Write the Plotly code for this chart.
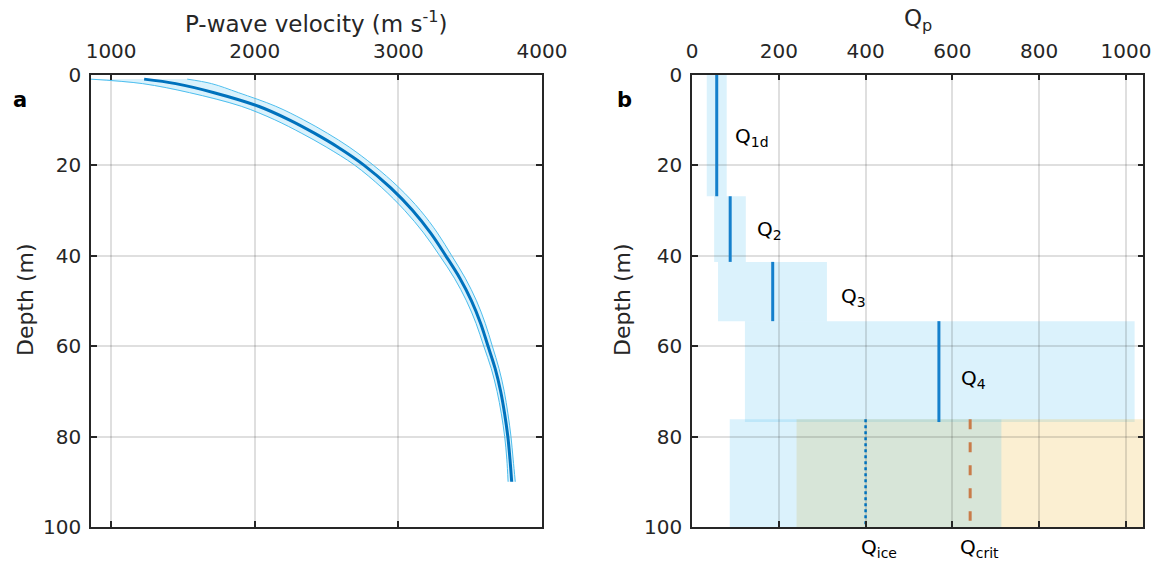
import plotly.graph_objects as go

# ---- Panel a: P-wave velocity profile ----
depth_m = [1, 2, 4, 7, 10, 13, 16, 20, 25, 30, 35, 40, 45, 50, 55, 60, 65, 70, 75, 80, 85, 90]
vp_mid = [1230, 1450, 1717, 2026, 2240, 2418, 2577, 2760, 2945, 3098, 3224, 3329, 3428, 3509,
          3573, 3624, 3674, 3712, 3740, 3762, 3777, 3789]
vp_low = [855, 1220, 1547, 1906, 2140, 2328, 2497, 2695, 2885, 3043, 3176, 3287, 3390, 3474,
          3541, 3594, 3647, 3687, 3717, 3740, 3755, 3764]
vp_high = [1530, 1700, 1887, 2146, 2340, 2508, 2657, 2825, 3005, 3153, 3272, 3371, 3466, 3544,
           3605, 3654, 3701, 3737, 3763, 3784, 3799, 3814]

# ---- Panel b: attenuation layers ----
layer_names = ["Q<sub>1d</sub>", "Q<sub>2</sub>", "Q<sub>3</sub>", "Q<sub>4</sub>"]
layer_top = [0, 26.9, 41.4, 54.5]
layer_bottom = [26.9, 41.4, 54.5, 76.8]
q_value = [57, 88, 186, 569]
q_low = [34, 51, 60, 122]
q_high = [80, 124, 311, 1020]

# deep ice reference values
deep_top, deep_bottom = 76.2, 100
q_ice = 400
q_ice_range = [87, 713]
q_crit = 641
q_crit_range = [241, 1100]

W, H = 1161, 567
TXT = "#262626"
FONT = "DejaVu Sans"
BLUE = "#0072BD"
LBLUE = "rgb(77,190,238)"
FILL_B = "rgba(77,190,238,0.2)"
FILL_O = "rgba(237,177,32,0.2)"
GRID = "rgba(38,38,38,0.15)"


def px(x):
    return x / W


def py(y):
    return 1 - y / H


fig = go.Figure()

# uncertainty band
fig.add_trace(go.Scatter(
    x=vp_low + vp_high[::-1], y=depth_m + depth_m[::-1],
    fill="toself", fillcolor=FILL_B, line=dict(width=0),
    mode="lines", hoverinfo="skip", showlegend=False, xaxis="x", yaxis="y"))
for edge in (vp_low, vp_high):
    fig.add_trace(go.Scatter(
        x=edge, y=depth_m, mode="lines", line=dict(color=LBLUE, width=1),
        line_shape="spline", showlegend=False, xaxis="x", yaxis="y"))
fig.add_trace(go.Scatter(
    x=vp_mid, y=depth_m, mode="lines", line=dict(color=BLUE, width=3),
    line_shape="spline", showlegend=False, xaxis="x", yaxis="y"))

shapes = []
# layer ranges and best estimates
for top, bot, lo, hi in zip(layer_top, layer_bottom, q_low, q_high):
    shapes.append(dict(type="rect", xref="x2", yref="y2", x0=lo, x1=hi, y0=top, y1=bot,
                       fillcolor=FILL_B, line=dict(width=0), layer="below"))
shapes.append(dict(type="rect", xref="x2", yref="y2", x0=q_crit_range[0], x1=q_crit_range[1],
                   y0=deep_top, y1=deep_bottom, fillcolor=FILL_O, line=dict(width=0), layer="below"))
shapes.append(dict(type="rect", xref="x2", yref="y2", x0=q_ice_range[0], x1=q_ice_range[1],
                   y0=deep_top, y1=deep_bottom, fillcolor=FILL_B, line=dict(width=0), layer="below"))

for top, bot, q in zip(layer_top, layer_bottom, q_value):
    fig.add_trace(go.Scatter(x=[q, q], y=[top, bot], mode="lines",
                             line=dict(color="#1580CC", width=3),
                             showlegend=False, xaxis="x2", yaxis="y2"))

fig.add_trace(go.Scatter(x=[q_ice, q_ice], y=[deep_top, deep_bottom], mode="lines",
                         line=dict(color=BLUE, width=2.5, dash="dot"),
                         showlegend=False, xaxis="x2", yaxis="y2"))
fig.add_trace(go.Scatter(x=[q_crit, q_crit], y=[deep_top, 98.6], mode="lines",
                         line=dict(color="#C97C4A", width=3, dash="10px,13px"),
                         showlegend=False, xaxis="x2", yaxis="y2"))

annotations = []
label_pos = [(94, 13.8), (145, 34.4), (339, 49.1), (615, 67.2)]
for name, (lx, ly) in zip(layer_names, label_pos):
    annotations.append(dict(text=name, x=lx, y=ly, xref="x2", yref="y2", xanchor="left",
                            yanchor="middle", showarrow=False,
                            font=dict(family=FONT, size=20, color="black")))
annotations.append(dict(text="Q<sub>ice</sub>", x=384, y=py(548), xref="x2", yref="paper",
                        xanchor="left", yanchor="middle", showarrow=False,
                        font=dict(family=FONT, size=20, color="black")))
annotations.append(dict(text="Q<sub>crit</sub>", x=612, y=py(548), xref="x2", yref="paper",
                        xanchor="left", yanchor="middle", showarrow=False,
                        font=dict(family=FONT, size=20, color="black")))


def label(text, x, y, size, color=TXT, angle=0):
    return dict(text=text, x=px(x), y=py(y), xref="paper", yref="paper",
                xanchor="center", yanchor="middle", textangle=angle, showarrow=False,
                font=dict(family=FONT, size=size, color=color))


# axis titles and panel letters
annotations += [
    label("P-wave velocity (m s<sup>-1</sup>)", 316.5, 22, 23),
    label("Q<sub>p</sub>", 918, 20, 23),
    label("Depth (m)", 25, 300, 22, angle=-90),
    label("Depth (m)", 622, 300, 22, angle=-90),
    label("<b>a</b>", 20, 100, 21, color="black"),
    label("<b>b</b>", 624, 100, 21, color="black"),
]

axis_common = dict(
    showline=True, linecolor=TXT, linewidth=1.5, mirror="ticks",
    ticks="inside", ticklen=6, tickwidth=1.5, tickcolor=TXT,
    showgrid=True, gridcolor=GRID, gridwidth=1.5, zeroline=False,
    automargin=False,
    tickfont=dict(family=FONT, size=20, color=TXT),
)

ydom = [py(527), py(74.6)]
fig.update_layout(
    width=W, height=H, margin=dict(l=0, r=0, t=0, b=0, autoexpand=False),
    paper_bgcolor="white", plot_bgcolor="white", showlegend=False,
    xaxis=dict(domain=[px(91), px(542)], range=[860, 4000], side="top",
               tickvals=[1000, 2000, 3000, 4000], anchor="y", ticklabelstandoff=7, **axis_common),
    yaxis=dict(domain=ydom, range=[100, 0], tickvals=[0, 20, 40, 60, 80, 100],
               anchor="x", ticklabelstandoff=4, **axis_common),
    xaxis2=dict(domain=[px(692), px(1143.3)], range=[0, 1040], side="top",
                tickvals=[0, 200, 400, 600, 800, 1000], anchor="y2", ticklabelstandoff=7, **axis_common),
    yaxis2=dict(domain=ydom, range=[100, 0], tickvals=[0, 20, 40, 60, 80, 100],
                anchor="x2", ticklabelstandoff=4, **axis_common),
    shapes=shapes, annotations=annotations,
)

fig.write_html("out.html")
